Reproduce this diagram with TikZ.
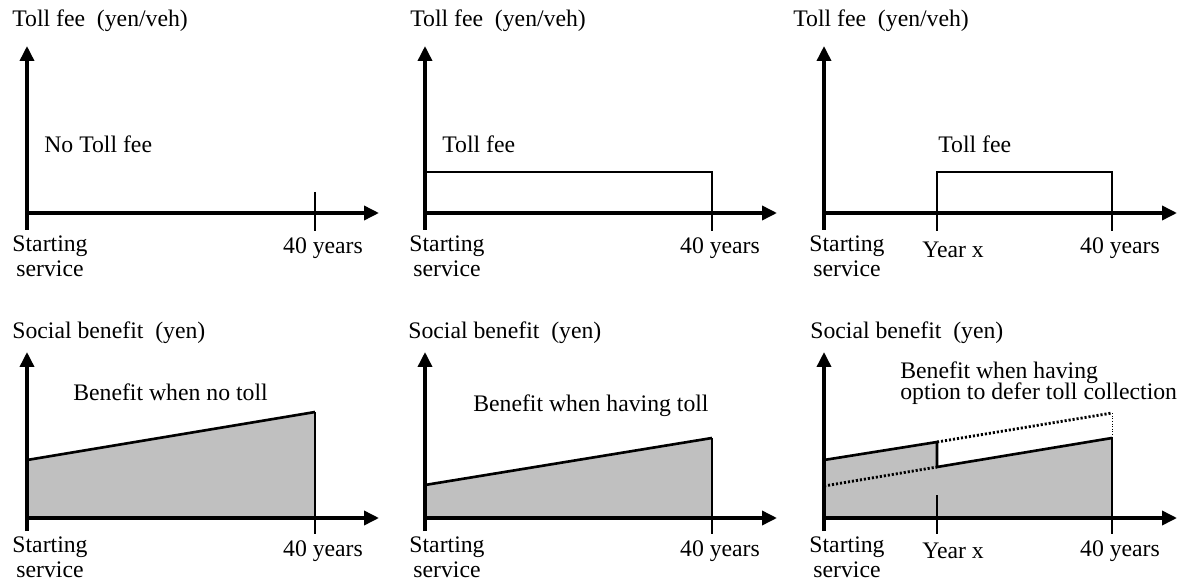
\documentclass[tikz,border=0pt]{standalone}
\usepackage{fontspec}
\setmainfont{Liberation Serif}
\usetikzlibrary{arrows.meta}
\definecolor{benefitgray}{RGB}{192,192,192}
\newcommand\tightlines{\fontsize{13.5}{11.4}\selectfont\lineskiplimit=-20pt\relax}

\begin{document}
\begin{tikzpicture}[x=0.02cm, y=-0.02cm,
        font=\fontsize{13.5}{13.7}\selectfont,
        axis/.style={line width=2pt, -{Triangle[length=0.3cm, width=0.28cm]}},
        tick/.style={line width=0.75pt},
        feeline/.style={line width=1.1pt},
        benefitline/.style={line width=1.5pt},
        deferline/.style={line width=1.6pt, dash pattern=on 1.2pt off 1.1pt},
        guideline/.style={line width=0.5pt, dash pattern=on 0.5pt off 1pt},
        lbl/.style={inner sep=0pt, anchor=base west},
        axlbl/.style={inner sep=0pt, anchor=base, align=center}]
    \useasboundingbox (0,0) rectangle (1186,584);

    % toll fee, no toll
    \draw[axis] (27,230) -- (27,46);
    \draw[axis] (27,213) -- (379,213);
    \draw[tick] (315,192) -- (315,231);
    \node[lbl] (feeTitleA) at (12,27) {Toll fee\ \ (yen/veh)};
    \node[lbl] (noFee) at (44,153) {No Toll fee};
    \node[axlbl] (startFeeA) at (50,276) {Starting\\service};
    \node[axlbl] (endFeeA) at (323,254) {40 years};

    % toll fee from the start
    \draw[axis] (425,230) -- (425,46);
    \draw[axis] (425,213) -- (777,213);
    \draw[feeline] (425,172) -- (712,172) -- (712,231);
    \node[lbl] (feeTitleB) at (410,27) {Toll fee\ \ (yen/veh)};
    \node[lbl] (feeB) at (442,153) {Toll fee};
    \node[axlbl] (startFeeB) at (447,276) {Starting\\service};
    \node[axlbl] (endFeeB) at (720,254) {40 years};

    % toll fee from year x
    \draw[axis] (824,230) -- (824,46);
    \draw[axis] (824,213) -- (1177,213);
    \draw[feeline] (937,231) -- (937,172) -- (1112,172) -- (1112,231);
    \node[lbl] (feeTitleC) at (793,27) {Toll fee\ \ (yen/veh)};
    \node[lbl] (feeC) at (938,153) {Toll fee};
    \node[axlbl] (startFeeC) at (847,276) {Starting\\service};
    \node[axlbl] (yearFeeC) at (953,257) {Year x};
    \node[axlbl] (endFeeC) at (1120,254) {40 years};

    % benefit, no toll
    \fill[benefitgray] (27,460) -- (315,412) -- (315,518) -- (27,518) -- cycle;
    \draw[benefitline] (27,460) -- (315,412);
    \draw[tick] (315,412) -- (315,534);
    \draw[axis] (27,531) -- (27,352);
    \draw[axis] (27,518) -- (379,518);
    \node[lbl] (benTitleA) at (12,338) {Social benefit\ \ (yen)};
    \node[lbl] (benNoToll) at (73,400) {Benefit when no toll};
    \node[axlbl] (startBenA) at (50,577) {Starting\\service};
    \node[axlbl] (endBenA) at (323,556) {40 years};

    % benefit, toll
    \fill[benefitgray] (425,485) -- (712,438) -- (712,518) -- (425,518) -- cycle;
    \draw[benefitline] (425,485) -- (712,438);
    \draw[tick] (712,438) -- (712,534);
    \draw[axis] (425,531) -- (425,352);
    \draw[axis] (425,518) -- (777,518);
    \node[lbl] (benTitleB) at (408,338) {Social benefit\ \ (yen)};
    \node[lbl] (benToll) at (473,411) {Benefit when having toll};
    \node[axlbl] (startBenB) at (447,577) {Starting\\service};
    \node[axlbl] (endBenB) at (720,556) {40 years};

    % benefit, deferred toll
    \fill[benefitgray] (824,460) -- (937,442) -- (937,467) -- (1112,438)
        -- (1112,518) -- (824,518) -- cycle;
    \draw[benefitline] (824,460) -- (937,442) -- (937,467) -- (1112,438);
    \draw[tick] (1112,438) -- (1112,534);
    \draw[tick] (937,495) -- (937,534);
    \draw[deferline] (937,442) -- (1112,413);
    \draw[guideline] (1112,413) -- (1112,438);
    \draw[deferline] (824,486) -- (937,467);
    \draw[axis] (824,531) -- (824,352);
    \draw[axis] (824,518) -- (1177,518);
    \node[lbl] (benTitleC) at (810,338) {Social benefit\ \ (yen)};
    \node[lbl, align=left, font=\tightlines]
        (benDefer) at (900,399) {Benefit when having\\option to defer toll collection};
    \node[axlbl] (startBenC) at (847,577) {Starting\\service};
    \node[axlbl] (yearBenC) at (953,558) {Year x};
    \node[axlbl] (endBenC) at (1120,556) {40 years};
\end{tikzpicture}
\end{document}
